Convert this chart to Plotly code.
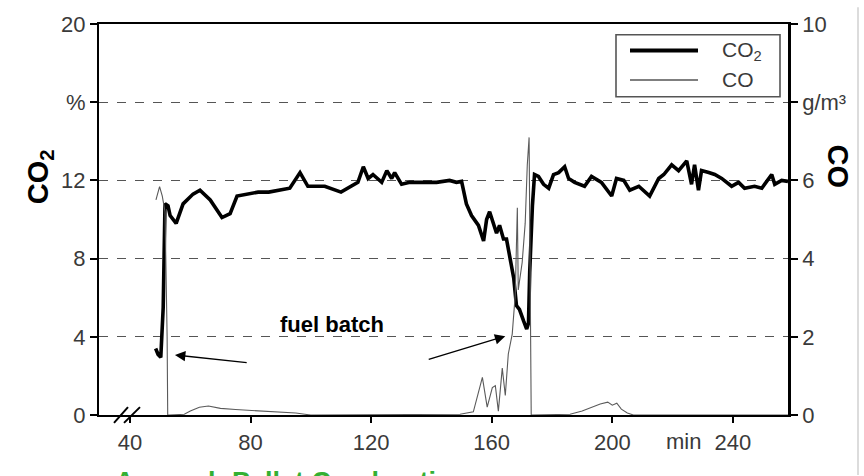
import plotly.graph_objects as go

# CO2 concentration (%) over time (min)
co2_t = [48.5, 49.3, 50.2, 51.0, 51.6, 52.6, 53.3, 55.3, 57.6, 60.9, 63.2, 66.6, 70.5, 73.2,
         75.5, 78.8, 82.5, 86.0, 90.0, 93.0, 96.4, 99.0, 104.6, 110.0, 115.6, 117.4, 119.0,
         120.6, 123.5, 125.2, 126.8, 127.8, 130.1, 132.8, 137.0, 141.7, 146.0, 148.3, 150.0,
         151.6, 153.3, 155.6, 157.3, 158.3, 159.3, 160.6, 161.6, 162.6, 163.9, 164.9, 165.9,
         167.3, 168.2, 169.2, 170.6, 171.6, 172.2, 172.6, 173.5, 174.2, 175.5, 177.2, 178.9,
         180.5, 182.2, 184.2, 185.5, 187.5, 190.8, 193.1, 196.4, 199.8, 201.4, 203.8, 205.8,
         208.8, 212.4, 215.4, 217.1, 219.7, 222.0, 224.7, 226.3, 227.3, 228.6, 229.6, 232.0,
         234.0, 236.3, 239.6, 241.9, 243.9, 247.2, 249.6, 252.9, 253.9, 256.2, 258.3]
co2_v = [3.4, 3.1, 2.95, 5.5, 10.8, 10.7, 10.2, 9.8, 10.8, 11.3, 11.5, 11.0, 10.1, 10.3,
         11.2, 11.3, 11.4, 11.4, 11.5, 11.6, 12.4, 11.7, 11.7, 11.4, 11.9, 12.7, 12.1,
         12.3, 11.9, 12.5, 12.1, 12.4, 11.8, 11.9, 11.9, 11.9, 12.0, 11.9, 11.95,
         10.8, 10.2, 9.7, 8.9, 10.0, 10.4, 9.8, 9.3, 9.7, 9.0, 9.0, 8.2,
         7.0, 5.6, 5.4, 4.8, 4.4, 4.7, 7.3, 10.7, 12.3, 12.2, 11.8, 11.6,
         12.3, 12.4, 12.7, 12.1, 11.9, 11.7, 12.2, 11.9, 11.2, 12.1, 12.0, 11.5,
         11.7, 11.2, 12.1, 12.3, 12.8, 12.5, 13.0, 11.8, 12.8, 11.5, 12.5, 12.4,
         12.3, 12.1, 11.7, 11.9, 11.6, 11.7, 11.6, 12.3, 11.8, 12.0, 11.95]

# CO concentration (g/m3) over time (min)
co_t = [48.6, 49.8, 50.7, 51.6, 52.3, 52.5, 53.0, 58.0, 60.0, 63.0, 66.0, 70.0, 75.0, 80.0,
        85.0, 90.0, 95.0, 98.0, 100.0, 149.5, 153.9, 156.9, 158.5, 160.2, 161.2, 162.2,
        163.5, 164.5, 165.5, 166.8, 167.8, 168.5, 168.8, 170.1, 171.1, 171.8, 172.4, 173.1,
        186.0, 190.0, 193.0, 196.0, 198.5, 200.0, 201.5, 203.0, 205.0, 207.0, 258.3]
co_v = [5.5, 5.84, 5.6, 5.2, 2.0, 0.0, 0.0, 0.02, 0.1, 0.2, 0.23, 0.17, 0.14, 0.12,
        0.1, 0.08, 0.05, 0.02, 0.0, 0.02, 0.08, 0.96, 0.2, 0.7, 0.75, 0.1,
        1.2, 0.5, 1.56, 2.07, 3.07, 5.3, 3.2, 3.9, 4.9, 6.4, 7.1, 0.0,
        0.02, 0.1, 0.2, 0.28, 0.33, 0.25, 0.3, 0.15, 0.05, 0.0, 0.0]

x_ticks = [40, 80, 120, 160, 200, 240]
y_left_ticks = [0, 4, 8, 12, 16, 20]
y_left_text = ["0", "4", "8", "12", "%", "20"]
y_right_ticks = [0, 2, 4, 6, 8, 10]
y_right_text = ["0", "2", "4", "6", "g/m³", "10"]

FONT = "Liberation Sans, Arial, sans-serif"
TICK_FONT = dict(family=FONT, size=22, color="#3a3a3a")

# plot-area geometry in pixels (used to place decorations in paper coords)
W, H = 864, 476
L, R, T, B = 99, 76, 17, 61
PW, PH = W - L - R, H - T - B


def px(x):
    return (x - L) / PW


def py(y):
    return (H - B - y) / PH


fig = go.Figure()
fig.add_trace(go.Scatter(x=co_t, y=co_v, mode="lines", yaxis="y2", name="CO",
                         line=dict(color="#5a5a5a", width=1.1), showlegend=False))
fig.add_trace(go.Scatter(x=co2_t, y=co2_v, mode="lines", name="CO2",
                         line=dict(color="#000000", width=3.6), showlegend=False))

shapes = []
# legend box and samples
shapes.append(dict(type="rect", xref="paper", yref="paper", x0=px(616), x1=px(780),
                   y0=py(91), y1=py(28), line=dict(color="#555", width=1.6),
                   fillcolor="white", layer="above"))
shapes.append(dict(type="line", xref="paper", yref="paper", x0=px(630), x1=px(698),
                   y0=py(44), y1=py(44), line=dict(color="black", width=4)))
shapes.append(dict(type="line", xref="paper", yref="paper", x0=px(630), x1=px(698),
                   y0=py(74), y1=py(74), line=dict(color="#555", width=1.3)))
# axis break marks
for x0, x1 in [(114, 128), (124, 140)]:
    shapes.append(dict(type="line", xref="paper", yref="paper", x0=px(x0), x1=px(x1),
                       y0=py(423), y1=py(407), line=dict(color="black", width=2)))
# page border line on the right
shapes.append(dict(type="line", xref="paper", yref="paper", x0=px(858), x1=px(858),
                   y0=py(0), y1=py(476), line=dict(color="#dcdcdc", width=2)))

annotations = [
    dict(text="<b>CO<sub>2</sub></b>", xref="paper", yref="paper", x=px(40), y=py(172),
         showarrow=False, textangle=-90, font=dict(family=FONT, size=29, color="black"),
         xanchor="center", yanchor="middle"),
    dict(text="<b>CO</b>", xref="paper", yref="paper", x=px(838), y=py(162),
         showarrow=False, textangle=90, font=dict(family=FONT, size=29, color="black"),
         xanchor="center", yanchor="middle"),
    dict(text="min", xref="paper", yref="paper", x=px(683), y=py(442), showarrow=False,
         font=TICK_FONT, xanchor="center", yanchor="middle"),
    dict(text="CO<sub>2</sub>", xref="paper", yref="paper", x=px(720), y=py(44),
         showarrow=False, font=dict(family=FONT, size=21, color="#3a3a3a"),
         xanchor="left", yanchor="middle"),
    dict(text="CO", xref="paper", yref="paper", x=px(720), y=py(74),
         showarrow=False, font=dict(family=FONT, size=21, color="#3a3a3a"),
         xanchor="left", yanchor="middle"),
    dict(text="<b>fuel batch</b>", x=107, y=4.62, xref="x", yref="y", showarrow=False,
         font=dict(family=FONT, size=22, color="black")),
    dict(x=54.9, y=3.07, ax=79.2, ay=2.67, xref="x", yref="y", axref="x", ayref="y",
         showarrow=True, arrowhead=2, arrowsize=1.6, arrowwidth=1.3, arrowcolor="black", text=""),
    dict(x=164.5, y=4.03, ax=138.6, ay=2.82, xref="x", yref="y", axref="x", ayref="y",
         showarrow=True, arrowhead=2, arrowsize=1.6, arrowwidth=1.3, arrowcolor="black", text=""),
    dict(text="<b>Aerosol: Pellet Combustion</b>", xref="paper", yref="paper",
         x=px(113), y=py(466), showarrow=False, xanchor="left", yanchor="top",
         font=dict(family=FONT, size=27, color="#33b033")),
]

fig.update_layout(
    width=W, height=H,
    margin=dict(l=L, r=R, t=T, b=B, pad=0),
    paper_bgcolor="white", plot_bgcolor="white",
    showlegend=False,
    xaxis=dict(range=[29.7, 258.3], tickvals=x_ticks, ticks="outside", ticklen=6,
               tickwidth=1.5, tickcolor="black", showline=True, linecolor="black",
               linewidth=2, mirror=True, showgrid=False, zeroline=False,
               tickfont=TICK_FONT, ticklabelstandoff=1),
    yaxis=dict(range=[0, 20], tickvals=y_left_ticks, ticktext=y_left_text,
               ticks="outside", ticklen=7, tickwidth=1.5, tickcolor="black",
               showline=True, linecolor="black", linewidth=2, showgrid=True,
               gridcolor="#555", griddash="dash", gridwidth=1.4, zeroline=False,
               tickfont=TICK_FONT),
    yaxis2=dict(range=[0, 10], tickvals=y_right_ticks, ticktext=y_right_text,
                overlaying="y", side="right", ticks="outside", ticklen=7,
                tickwidth=1.5, tickcolor="black", showline=True, linecolor="black",
                linewidth=2.5, showgrid=False, zeroline=False, tickfont=TICK_FONT),
    shapes=shapes,
    annotations=annotations,
)

fig.write_html("out.html")
